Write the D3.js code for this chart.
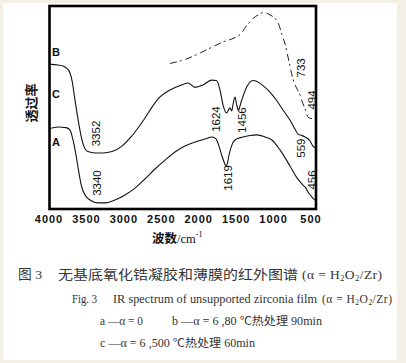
<!DOCTYPE html>
<html><head><meta charset="utf-8">
<script src="https://cdn.jsdelivr.net/npm/d3@7"></script>
<style>
html,body{margin:0;padding:0;background:#f4efe4;}
svg{display:block;}
</style></head><body>
<svg id="c" width="406" height="363"></svg>
<script>
// ---- data (wavenumber cm^-1, relative transmittance) ----
const xTicks = [4000, 3500, 3000, 2500, 2000, 1500, 1000, 500];

const waveA = [4000,3866,3760,3706,3666,3626,3593,3553,3506,3439,3332,3225,3105,2971,2838,2704,2571,2437,2304,2170,2036,1903,1809,1756,1716,1676,1643,1622,1602,1582,1549,1502,1395,1302,1208,1101,1008,901,768,674,594,554,527,474,433,407];
const transA = [39.4,40.4,40.1,38.9,34.0,26.6,19.2,11.3,6.9,4.4,3.0,3.0,4.4,6.9,10.3,14.8,19.7,24.1,28.1,31.0,33.0,34.5,35.5,34.5,31.0,26.1,22.7,21.2,22.7,26.6,31.0,34.0,35.5,36.2,36.5,35.5,34.0,29.1,21.2,15.3,11.8,10.3,8.4,5.9,4.4,3.9];

const waveB = [4000,3866,3800,3746,3706,3673,3646,3619,3593,3566,3526,3466,3372,3265,3145,3012,2891,2798,2704,2611,2504,2370,2237,2130,2036,1930,1816,1749,1702,1658,1616,1569,1546,1525,1502,1479,1458,1412,1346,1262,1208,1128,1035,941,861,768,701,661,607,567,500,460,413];
const transB = [71.4,70.9,70.4,69.2,67.0,62.1,55.2,48.8,42.9,37.4,31.5,28.3,27.6,27.6,28.3,31.0,35.5,39.9,44.8,50.2,55.2,58.6,60.8,62.1,59.9,61.1,63.5,63.3,58.6,50.7,47.3,49.8,48.3,52.2,55.2,51.2,48.8,53.7,60.1,63.3,62.8,60.8,57.6,53.2,48.8,43.8,39.4,36.9,36.2,35.5,33.5,31.0,30.0];

const waveC = [2370,2237,2117,1970,1796,1662,1529,1413,1346,1302,1262,1194,1128,1088,1035,968,914,874,834,794,768,728,680,633,607,567,527,487,453,413];
const transC = [71.7,72.9,74.4,76.8,80.0,82.3,84.0,86.7,90.4,92.1,93.8,95.6,96.7,96.6,95.6,93.9,90.6,85.7,81.3,74.9,70.4,64.0,59.6,56.2,53.2,49.3,45.3,44.6,44.6,45.3];

const seriesNames = ["A", "B", "C"];
const peakText = ["3352","3340","1624","1456","1619","559","456","733","494"];
const peakLabelWave = [3359,3352,1762,1409,1602,616,470,620,474];
const peakLabelTrans = [37.2,12.8,44.3,43.8,15.3,30.0,14.3,69.5,53.7];

// ---- drawing ----
const svg = d3.select("#c");
svg.append("rect").attr("x",3).attr("y",3).attr("width",394).attr("height",357).attr("fill","#fff");

const pLeft = 48, pRight = 317.5, pTop = 6, pBottom = 209;
const x = d3.scaleLinear().domain([4000, 400]).range([pLeft, pRight]);
const y = d3.scaleLinear().domain([0, 100]).range([pBottom, pTop]);

svg.append("defs").append("clipPath").attr("id","clip")
  .append("rect").attr("x",49.5).attr("y",6).attr("width",266.5).attr("height",203);

const g = svg.append("g").attr("clip-path","url(#clip)");
function mkLine(w, t){
  return d3.line().x((d,i)=>x(w[i])).y((d,i)=>y(t[i])).curve(d3.curveMonotoneX)(w);
}
g.append("path").attr("d", mkLine(waveA, transA)).attr("fill","none").attr("stroke","#111").attr("stroke-width",1.1);
g.append("path").attr("d", mkLine(waveB, transB)).attr("fill","none").attr("stroke","#111").attr("stroke-width",1.1);
g.append("path").attr("d", mkLine(waveC, transC)).attr("fill","none").attr("stroke","#222").attr("stroke-width",1)
  .attr("stroke-dasharray","7,3,2,4");

// frame
svg.append("rect").attr("x",49.5).attr("y",6).attr("width",266.5).attr("height",203)
  .attr("fill","none").attr("stroke","#000").attr("stroke-width",2.6);

// x axis labels
const ax = svg.append("g").attr("transform",`translate(0,${pBottom})`)
  .call(d3.axisBottom(x).tickValues(xTicks).tickSize(0).tickPadding(6).tickFormat(d3.format("d")));
ax.select(".domain").remove();
ax.selectAll("text").attr("font-family","Liberation Sans, Arial, sans-serif").attr("font-size",11)
  .attr("font-weight","bold").attr("fill","#111").attr("letter-spacing","1px").attr("dx","0.5");

// x title
const xt = svg.append("text").attr("x",152).attr("y",243).attr("fill","#111");
xt.append("tspan").text("波数").attr("font-family","Noto Sans CJK SC").attr("font-weight","bold").attr("font-size",12.5);
xt.append("tspan").text("/cm").attr("font-family","Liberation Serif, serif").attr("font-size",12.5);
xt.append("tspan").text("-1").attr("font-family","Liberation Serif, serif").attr("font-size",8).attr("dy",-6);

// y title
svg.append("text").attr("transform","translate(30,103) rotate(-90)")
  .attr("text-anchor","middle").attr("dominant-baseline","central")
  .attr("font-family","Noto Sans CJK SC").attr("font-weight","bold").attr("font-size",13).attr("fill","#111")
  .text("透过率");

// series letter labels
const letterY = [146, 56, 98];
seriesNames.forEach((n,i)=>{
  svg.append("text").attr("x",52).attr("y",letterY[i]).text(n)
    .attr("font-family","Liberation Sans, Arial, sans-serif").attr("font-weight","bold").attr("font-size",11).attr("fill","#111");
});

// peak labels
peakText.forEach((t,i)=>{
  svg.append("text")
    .attr("transform",`translate(${x(peakLabelWave[i])},${y(peakLabelTrans[i])}) rotate(-90)`)
    .attr("text-anchor","middle").attr("dominant-baseline","central")
    .attr("font-family","Liberation Sans, Arial, sans-serif").attr("font-size",11.5).attr("fill","#111")
    .text(t);
});

// caption
const serif = "Liberation Serif, Noto Sans CJK SC, serif";
function txt(xp, yp, size, s, len, fam){
  const t = svg.append("text").attr("x",xp).attr("y",yp).attr("fill","#333").attr("font-size",size)
    .attr("font-family",fam || serif).text(s);
  if (len) t.attr("textLength",len).attr("lengthAdjust","spacingAndGlyphs");
  return t;
}
function formula(xp, yp, size, len){
  const t = svg.append("text").attr("x",xp).attr("y",yp).attr("fill","#333").attr("font-size",size)
    .attr("font-family","Liberation Serif, serif");
  t.append("tspan").text("(α = H");
  t.append("tspan").text("2").attr("font-size",size*0.65).attr("dy",2);
  t.append("tspan").text("O").attr("dy",-2);
  t.append("tspan").text("2").attr("font-size",size*0.65).attr("dy",2);
  t.append("tspan").text("/Zr)").attr("dy",-2);
  t.attr("textLength",len).attr("lengthAdjust","spacing");
}
txt(18, 279, 13.5, "图 3", 24);
txt(58, 279, 13, "无基底氧化锆凝胶和薄膜的红外图谱", 240, "Noto Sans CJK SC");
formula(302, 279, 13.5, 80);

txt(72, 303, 11.5, "Fig. 3", 25);
txt(113, 303, 11.5, "IR spectrum of unsupported zirconia film", 204);
formula(322, 303, 11.5, 70);

txt(100, 325, 11.5, "a —α = 0", 43);
txt(172, 325, 11.5, "b —α = 6 ,80 ℃热处理 90min", 150);
txt(100, 347, 11.5, "c —α = 6 ,500 ℃热处理 60min", 155);
</script>
</body></html>
